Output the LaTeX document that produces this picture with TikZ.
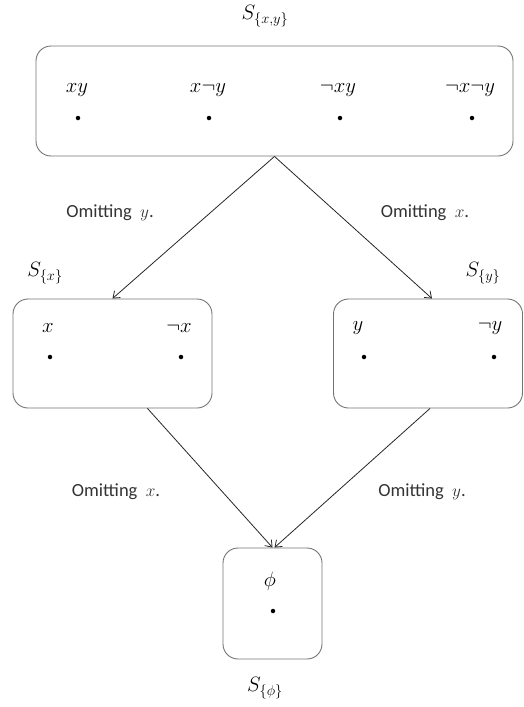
\documentclass[tikz,border=0pt]{standalone}
\usepackage{fontspec}
\usetikzlibrary{arrows.meta}
\newfontfamily\omitfont{Carlito}
\begin{document}
\begin{tikzpicture}[x=1pt, y=-1pt, line width=0.8pt,
  >={Straight Barb[length=6pt, width=9pt]},
  setbox/.style={draw=black!55, line width=0.9pt, rounded corners=15pt, inner sep=0pt},
  elem/.style={font=\fontsize{20}{24}\selectfont, inner sep=1pt},
  pt/.style={circle, fill=black, inner sep=0pt, minimum size=4.5pt},
  omit/.style={font=\omitfont\fontsize{18.5}{22}\selectfont, text=black!80},
  arr/.style={->, draw=black!85}]
  \useasboundingbox (0,0) rectangle (523,707);
  % the four sets
  \node[setbox, minimum width=477pt, minimum height=110pt] (sxy) at (274.5,101) {};
  \node[setbox, minimum width=199pt, minimum height=109pt] (sx) at (112.5,353.5) {};
  \node[setbox, minimum width=189pt, minimum height=109pt] (sy) at (428,353.5) {};
  \node[setbox, minimum width=99pt, minimum height=111pt] (sphi) at (272.5,603.5) {};
  % set names
  \node[elem] (nxy) at (265,16) {$S_{\{x,y\}}$};
  \node[elem] (nx) at (45,273) {$S_{\{x\}}$};
  \node[elem] (ny) at (483,273) {$S_{\{y\}}$};
  \node[elem] (nphi) at (265,688) {$S_{\{\phi\}}$};
  % elements of S_{x,y}
  \node[elem] (e1) at (77,90) {$xy$};
  \node[elem] (e2) at (208,90) {$x\neg y$};
  \node[elem] (e3) at (338,90) {$\neg xy$};
  \node[elem] (e4) at (470,90) {$\neg x\neg y$};
  \node[pt] (d1) at (78,118) {};
  \node[pt] (d2) at (209,118) {};
  \node[pt] (d3) at (340,118) {};
  \node[pt] (d4) at (472,118) {};
  % elements of S_{x} and S_{y}
  \node[elem] (e5) at (48,328) {$x$};
  \node[elem] (e6) at (179,328) {$\neg x$};
  \node[elem] (e7) at (358,328) {$y$};
  \node[elem] (e8) at (490,328) {$\neg y$};
  \node[pt] (d5) at (50,357) {};
  \node[pt] (d6) at (181,357) {};
  \node[pt] (d7) at (364,357) {};
  \node[pt] (d8) at (494,357) {};
  % element of S_{phi}
  \node[elem] (e9) at (270,581) {$\phi$};
  \node[pt] (d9) at (273,611) {};
  % omitting steps
  \draw[arr] (sxy.south) -- (sx.north);
  \draw[arr] (sxy.south) -- ([xshift=4pt]sy.north);
  \draw[arr] ([xshift=35pt]sx.south) -- (sphi.north);
  \draw[arr] ([xshift=2pt]sy.south) -- ([xshift=2pt]sphi.north);
  \node[omit] (o1) at (110,213) {Omitting\ \ $y$.};
  \node[omit] (o2) at (425,213) {Omitting\ \ $x$.};
  \node[omit] (o3) at (116,492) {Omitting\ \ $x$.};
  \node[omit] (o4) at (422,492) {Omitting\ \ $y$.};
\end{tikzpicture}
\end{document}
